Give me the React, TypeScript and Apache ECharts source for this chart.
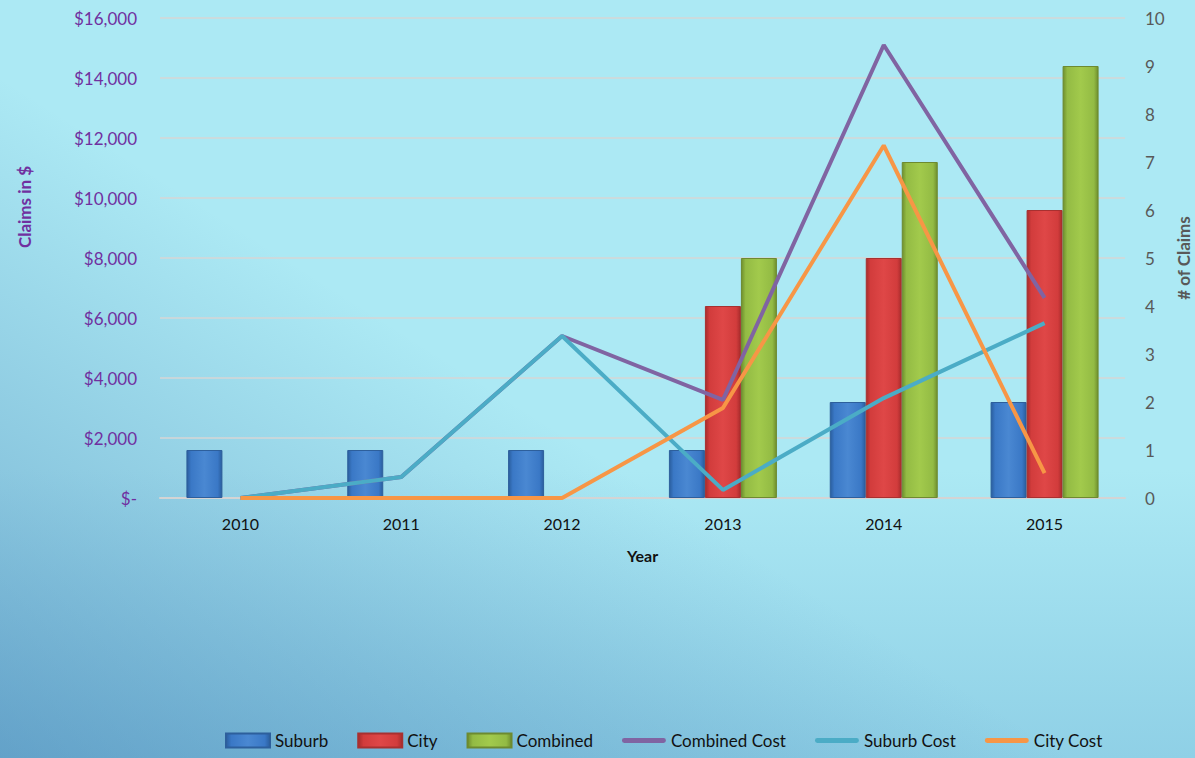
import React, { useEffect, useRef } from "react";
import * as echarts from "echarts";

const years = ["2010", "2011", "2012", "2013", "2014", "2015"];
const suburbClaims = [1, 1, 1, 1, 2, 2];
const cityClaims = [null, null, null, 4, 5, 6];
const combinedClaims = [null, null, null, 5, 7, 9];
const combinedCost = [0, 700, 5400, 3270, 15100, 6670];
const suburbCost = [0, 700, 5400, 270, 3330, 5830];
const cityCost = [0, 0, 0, 3000, 11750, 830];

const FONT = "Lato, 'Open Sans', sans-serif";
const LINE_ICON = "path://M2,0 L42,0 A2.5,2.5 0 0 1 42,5 L2,5 A2.5,2.5 0 0 1 2,0 Z";

function barGrad(dark: string, mid: string, light: string) {
  return new echarts.graphic.LinearGradient(0, 0, 1, 0, [
    { offset: 0, color: dark },
    { offset: 0.12, color: mid },
    { offset: 0.5, color: light },
    { offset: 0.88, color: mid },
    { offset: 1, color: dark },
  ]);
}

export default function App() {
  const ref = useRef<HTMLDivElement>(null);
  useEffect(() => {
    if (!ref.current) return;
    const chart = echarts.init(ref.current, undefined, { renderer: "svg" });
    const barBase = {
      type: "bar" as const,
      yAxisIndex: 1,
      barWidth: 36,
      barGap: "0%",
    };
    chart.setOption({
      animation: false,
      backgroundColor: "transparent",
      grid: { left: 160, right: 70, top: 18, bottom: 260 },
      legend: {
        left: 220,
        bottom: 4,
        itemGap: 29,
        itemWidth: 44,
        itemHeight: 14,
        textStyle: { fontFamily: FONT, fontSize: 17, color: "#111" },
        data: [
          { name: "Suburb", icon: "rect" },
          { name: "City", icon: "rect" },
          { name: "Combined", icon: "rect" },
          { name: "Combined Cost", icon: LINE_ICON },
          { name: "Suburb Cost", icon: LINE_ICON },
          { name: "City Cost", icon: LINE_ICON },
        ],
      },
      xAxis: {
        type: "category",
        data: years,
        axisTick: { show: false },
        axisLine: { lineStyle: { color: "#d4d4d4", width: 2 } },
        axisLabel: { color: "#111", fontFamily: FONT, fontSize: 16, margin: 17 },
        name: "Year",
        nameLocation: "middle",
        nameGap: 49,
        nameTextStyle: { color: "#111", fontFamily: FONT, fontSize: 16, fontWeight: "bold" },
      },
      yAxis: [
        {
          type: "value",
          min: 0,
          max: 16000,
          interval: 2000,
          axisLine: { show: false },
          axisTick: { show: false },
          splitLine: { lineStyle: { color: "#d6d6d6", width: 1.5 } },
          axisLabel: {
            color: "#7030A0",
            fontFamily: FONT,
            fontSize: 17,
            margin: 23,
            formatter: (v: number) => (v === 0 ? "$-" : "$" + v.toLocaleString("en-US")),
          },
        },
        {
          type: "value",
          min: 0,
          max: 10,
          interval: 1,
          axisLine: { show: false },
          axisTick: { show: false },
          splitLine: { show: false },
          axisLabel: { color: "#595959", fontFamily: FONT, fontSize: 17, margin: 20 },
        },
      ],
      graphic: [
        {
          type: "text",
          x: 24,
          y: 207,
          rotation: Math.PI / 2,
          style: {
            text: "Claims in $",
            fill: "#7030A0",
            font: `bold 17px ${FONT}`,
            align: "center",
            verticalAlign: "middle",
          },
        },
        {
          type: "text",
          x: 1183,
          y: 258,
          rotation: Math.PI / 2,
          style: {
            text: "# of Claims",
            fill: "#595959",
            font: `bold 17px ${FONT}`,
            align: "center",
            verticalAlign: "middle",
          },
        },
      ],
      series: [
        {
          ...barBase,
          name: "Suburb",
          data: suburbClaims,
          itemStyle: {
            color: barGrad("#2a5e9e", "#3a78c6", "#4a88d2"),
            borderColor: "#2d5f9c",
            borderWidth: 1,
          },
        },
        {
          ...barBase,
          name: "City",
          data: cityClaims,
          itemStyle: {
            color: barGrad("#a82c2c", "#d23c3c", "#df4747"),
            borderColor: "#a83030",
            borderWidth: 1,
          },
        },
        {
          ...barBase,
          name: "Combined",
          data: combinedClaims,
          itemStyle: {
            color: barGrad("#6f8f2e", "#93bb44", "#a2ca4c"),
            borderColor: "#6d8a30",
            borderWidth: 1,
          },
        },
        {
          type: "line",
          name: "Combined Cost",
          yAxisIndex: 0,
          data: combinedCost,
          symbol: "none",
          lineStyle: { color: "#8064A2", width: 4 },
          itemStyle: { color: "#8064A2" },
        },
        {
          type: "line",
          name: "Suburb Cost",
          yAxisIndex: 0,
          data: suburbCost,
          symbol: "none",
          lineStyle: { color: "#4BACC6", width: 4 },
          itemStyle: { color: "#4BACC6" },
        },
        {
          type: "line",
          name: "City Cost",
          yAxisIndex: 0,
          data: cityCost,
          symbol: "none",
          lineStyle: { color: "#F79646", width: 4 },
          itemStyle: { color: "#F79646" },
        },
      ],
    });
    return () => chart.dispose();
  }, []);

  return (
    <div
      style={{
        position: "fixed",
        left: 0,
        top: 0,
        width: 1195,
        height: 758,
        background:
          "linear-gradient(to top right, rgba(45,105,165,0.45) 0%, rgba(45,105,165,0) 45%), linear-gradient(to bottom, #ace9f4 0%, #ace9f4 62%, #8fd0e6 100%)",
      }}
    >
      <div ref={ref} style={{ width: 1195, height: 758 }} />
    </div>
  );
}
